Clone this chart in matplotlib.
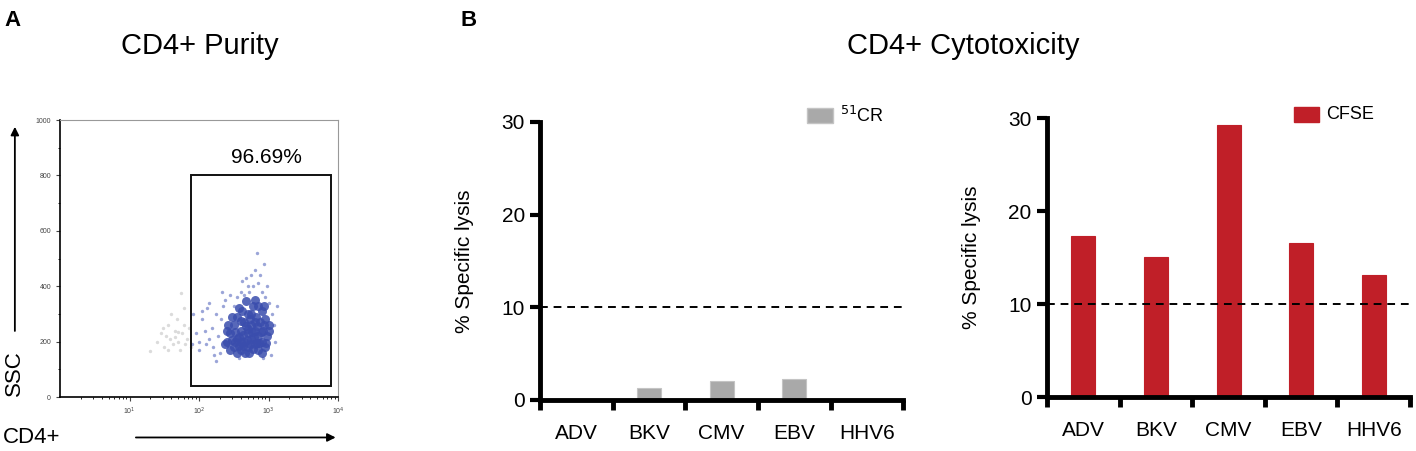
import matplotlib
matplotlib.use("Agg")
import matplotlib.pyplot as plt
from matplotlib.patches import Rectangle, FancyArrowPatch
from matplotlib.ticker import FixedLocator, NullFormatter

plt.rcParams['font.family'] = ['Liberation Sans', 'DejaVu Sans']

# ---- data ----
viruses = ["ADV", "BKV", "CMV", "EBV", "HHV6"]
cr51_lysis = [0.0, 1.3, 2.0, 2.3, 0.0]
cfse_lysis = [17.3, 15.1, 29.2, 16.6, 13.1]
cutoff = 10

gate_pct = "96.69%"
gate_cd4 = [76, 7900]      # CD4 gate edges
gate_ssc = [40, 800]       # SSC gate edges

# flow points (log10 CD4, SSC)
core_log = [2.40, 2.45, 2.50, 2.50, 2.55, 2.55, 2.60, 2.60, 2.62, 2.65, 2.65, 2.70, 2.70, 2.70,
            2.72, 2.75, 2.75, 2.78, 2.80, 2.80, 2.82, 2.85, 2.85, 2.88, 2.90, 2.90, 2.92, 2.95,
            2.95, 2.98, 3.00, 2.45, 2.58, 2.68, 2.77, 2.83, 2.52, 2.63, 2.73, 2.87, 2.42, 2.48,
            2.58, 2.67, 2.80, 2.93, 2.40, 2.37, 2.97, 3.00, 2.60, 2.75, 2.85, 2.66, 2.54, 2.90,
            2.57, 2.69, 2.79, 2.89, 2.64, 2.74, 2.84, 2.52, 2.94, 2.71, 2.61, 2.81, 2.47, 2.76]
core_ssc = [200, 230, 180, 260, 210, 290, 170, 240, 310, 200, 270, 180, 230, 300,
            160, 210, 260, 330, 190, 240, 290, 170, 220, 270, 200, 310, 240, 180,
            280, 220, 260, 170, 185, 255, 175, 255, 235, 225, 280, 195, 260, 205,
            320, 345, 350, 330, 240, 190, 195, 240, 200, 300, 330, 160, 160, 160,
            215, 205, 215, 235, 185, 190, 195, 200, 260, 245, 275, 270, 290, 235]
spread_log = [2.60, 2.70, 2.75, 2.85, 2.90, 2.95, 2.80, 2.65, 3.00, 2.83, 2.72, 2.88, 3.05,
              3.08, 2.55, 2.50, 1.95, 2.00, 2.05, 2.10, 2.12, 2.18, 2.20, 2.25, 2.28, 2.30,
              1.92, 2.15, 2.22, 2.08, 2.32, 2.35, 2.00, 1.90, 2.25, 2.93, 2.62, 3.10, 2.78,
              2.68, 2.98, 2.45, 2.38, 2.05, 2.15, 3.12, 3.04, 2.58, 2.92, 2.33]
spread_ssc = [380, 400, 440, 410, 380, 360, 460, 370, 340, 520, 380, 440, 300,
              260, 360, 330, 230, 200, 280, 190, 320, 250, 180, 300, 220, 160,
              300, 340, 150, 240, 280, 330, 170, 190, 130, 480, 420, 200, 400,
              430, 400, 370, 350, 310, 210, 330, 150, 140, 140, 380]
gray_log = [1.40, 1.45, 1.50, 1.55, 1.58, 1.62, 1.65, 1.68, 1.70, 1.72, 1.75, 1.78, 1.80,
            1.82, 1.85, 1.74, 1.30, 1.60, 1.52, 1.88, 1.48, 1.66, 1.78, 1.56, 1.70]
gray_ssc = [200, 230, 180, 260, 210, 190, 240, 280, 200, 170, 230, 260, 190,
            210, 250, 375, 165, 300, 220, 180, 250, 215, 320, 170, 235]

fig = plt.figure(figsize=(14.16, 4.51), dpi=100)

# ---- panel A: purity dot plot ----
axA = fig.add_axes([0.0424, 0.1197, 0.1963, 0.614])
axA.set_xscale('log')
axA.set_xlim(1, 1e4)
axA.set_ylim(0, 1000)
axA.scatter([10 ** v for v in gray_log], gray_ssc, s=6, color='#c4c4c4', alpha=0.6, lw=0)
axA.scatter([10 ** v for v in spread_log], spread_ssc, s=6, color='#4a5cb8', alpha=0.55, lw=0)
axA.scatter([10 ** v for v in core_log], core_ssc, s=42, color='#3a4dad', alpha=0.85, lw=0)
axA.add_patch(Rectangle((gate_cd4[0], gate_ssc[0]), gate_cd4[1] - gate_cd4[0],
                        gate_ssc[1] - gate_ssc[0], fill=False, ec='#111111', lw=1.4))
axA.text(930, 830, gate_pct, fontsize=15, ha='center', va='bottom')
axA.set_yticks([0, 200, 400, 600, 800, 1000])
axA.yaxis.set_minor_locator(FixedLocator([100, 300, 500, 700, 900]))
axA.set_xticks([10, 100, 1000, 10000])
axA.set_xticklabels(["10$^1$", "10$^2$", "10$^3$", "10$^4$"])
axA.tick_params(labelsize=5, colors='#444444', length=3, width=0.8)
axA.tick_params(which='minor', length=1.5, width=0.6)
axA.xaxis.set_minor_formatter(NullFormatter())
for s in ['top', 'right']:
    axA.spines[s].set_color('#999999')
    axA.spines[s].set_linewidth(0.8)
for s in ['left', 'bottom']:
    axA.spines[s].set_linewidth(1.2)

fig.text(0.1413, 0.898, "CD4+ Purity", fontsize=21, ha='center', va='center')
fig.text(0.003, 0.955, "A", fontsize=16, fontweight='bold', ha='left', va='center')
fig.text(0.325, 0.955, "B", fontsize=16, fontweight='bold', ha='left', va='center')
fig.text(0.680, 0.898, "CD4+ Cytotoxicity", fontsize=21, ha='center', va='center')

# axis arrows of the dot plot
fig.text(0.0105, 0.172, "SSC", fontsize=16, rotation=90, ha='center', va='center')
fig.text(0.022, 0.030, "CD4+", fontsize=16, ha='center', va='center')
fig.add_artist(FancyArrowPatch((0.0105, 0.26), (0.0105, 0.725), transform=fig.transFigure,
                               arrowstyle='-|>', mutation_scale=12, lw=1.3, color='black'))
fig.add_artist(FancyArrowPatch((0.094, 0.030), (0.239, 0.030), transform=fig.transFigure,
                               arrowstyle='-|>', mutation_scale=12, lw=1.3, color='black'))


# ---- panel B: cytotoxicity bars ----
def bar_panel(rect, values, color, edge, label, legend_xy):
    ax = fig.add_axes(rect)
    xs = list(range(len(viruses)))
    ax.bar(xs, values, width=0.33, color=color, edgecolor=edge, lw=0.8, zorder=2)
    ax.axhline(cutoff, color='black', ls=(0, (4, 3)), lw=1.4, zorder=3)
    ax.set_xlim(-0.5, len(viruses) - 0.5)
    ax.set_ylim(0, 30)
    ax.set_yticks([0, 10, 20, 30])
    ax.set_xticks([x - 0.5 for x in range(len(viruses) + 1)])
    ax.set_xticklabels([])
    ax.set_xticks(xs, minor=True)
    ax.set_xticklabels(viruses, minor=True)
    ax.tick_params(axis='x', which='minor', length=0, pad=17, labelsize=15)
    ax.tick_params(axis='x', which='major', length=7, width=3.5, direction='out')
    ax.tick_params(axis='y', length=7, width=3, labelsize=15, pad=4)
    for s in ['top', 'right']:
        ax.spines[s].set_visible(False)
    ax.spines['left'].set_linewidth(3.5)
    ax.spines['bottom'].set_linewidth(3.5)
    ax.set_ylabel("% Specific lysis", fontsize=15, labelpad=20)
    ax.add_patch(Rectangle(legend_xy, 0.07, 0.055, transform=ax.transAxes,
                           color=color, ec=edge, clip_on=False))
    ax.text(legend_xy[0] + 0.09, legend_xy[1] + 0.028, label, transform=ax.transAxes,
            fontsize=13, va='center', ha='left')
    return ax


bar_panel([0.3814, 0.1131, 0.2564, 0.6164], cr51_lysis, '#a9a9a9', '#c4c4c4',
          "$^{51}$CR", (0.736, 0.995))
bar_panel([0.7394, 0.1197, 0.2564, 0.6186], cfse_lysis, '#c01f28', '#c01f28',
          "CFSE", (0.680, 0.985))

fig.savefig("out.png", dpi=100)
